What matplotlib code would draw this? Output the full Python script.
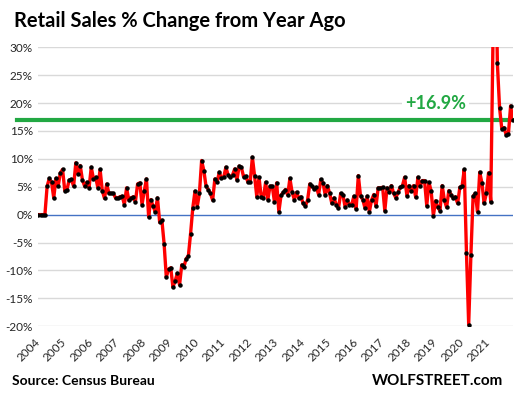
#!/usr/bin/env python
# -*- coding: utf-8 -*-
"""
Retail Sales % Change from Year Ago
"""
import numpy as np
import matplotlib
matplotlib.use("Agg")
import matplotlib.pyplot as plt

#-------------------------------------------------------#
# data (monthly, Jan 2004 - Dec 2021), % change y/y
years = list(range(2004, 2022))
yoy_2004 = [0, 0, 0, 0, 5.1, 6.5, 5.8, 3.0, 6.5, 5.1, 7.5, 8.1]
yoy_2005 = [4.3, 4.5, 6.2, 6.3, 5.1, 9.3, 7.3, 8.8, 6.2, 5.1, 5.8, 4.8]
yoy_2006 = [8.5, 6.4, 6.7, 4.8, 8.1, 4.3, 2.9, 5.5, 3.8, 3.8, 3.8, 3.0]
yoy_2007 = [3.0, 3.2, 3.3, 1.8, 4.8, 2.6, 3.0, 3.2, 2.3, 5.5, 5.7, 1.8]
yoy_2008 = [4.2, 6.4, -0.4, 2.7, 1.5, 0.5, 3.0, -1.4, -1.0, -5.2, -11.2, -9.8]
yoy_2009 = [-9.5, -13.0, -11.9, -10.5, -12.6, -9.0, -9.3, -7.9, -7.4, -3.4, 1.2, 4.2]
yoy_2010 = [1.4, 3.8, 9.7, 7.9, 5.1, 4.5, 3.8, 2.6, 6.4, 5.8, 7.6, 6.5]
yoy_2011 = [6.7, 8.5, 7.1, 6.7, 7.1, 8.2, 6.2, 8.7, 8.5, 6.8, 6.9, 5.8]
yoy_2012 = [5.8, 10.3, 6.9, 3.2, 6.7, 3.2, 3.0, 5.8, 2.7, 5.1, 5.1, 2.3]
yoy_2013 = [5.7, 0.5, 3.5, 4.0, 4.5, 3.5, 6.5, 4.0, 2.7, 4.0, 3.0, 3.2]
yoy_2014 = [2.0, 1.5, 2.6, 5.5, 5.1, 4.6, 4.9, 3.6, 6.3, 5.7, 3.5, 5.2]
yoy_2015 = [3.8, 2.0, 3.0, 1.8, 1.1, 3.8, 3.6, 1.4, 2.6, 1.8, 1.8, 3.3]
yoy_2016 = [1.0, 7.0, 3.3, 2.7, 1.2, 3.3, 0.5, 2.6, 3.6, 1.5, 4.8, 4.8]
yoy_2017 = [4.9, 0.7, 4.8, 4.0, 5.2, 3.8, 3.0, 4.0, 4.9, 5.2, 6.7, 3.4]
yoy_2018 = [5.2, 4.2, 5.2, 3.1, 6.7, 5.1, 6.1, 6.1, 1.6, 5.8, 4.2, -0.2]
yoy_2019 = [2.5, 1.3, 0.7, 5.2, 2.6, 1.3, 4.3, 3.6, 2.9, 3.2, 2.0, 4.9]
yoy_2020 = [5.1, 8.1, -6.9, -19.7, -7.3, 3.3, 3.8, 0.5, 7.6, 5.7, 2.0, 3.8]
yoy_2021 = [7.5, 2.3, 31.0, 53.0, 27.1, 19.1, 15.4, 15.6, 14.3, 14.5, 19.5, 16.9]

latest = 16.9
y_ticks = [30, 25, 20, 15, 10, 5, 0, -5, -10, -15, -20]
#-------------------------------------------------------#


#-------------------------------------------------------#
def make_graph():
    yoy = np.array(yoy_2004 + yoy_2005 + yoy_2006 + yoy_2007 + yoy_2008 +
                   yoy_2009 + yoy_2010 + yoy_2011 + yoy_2012 + yoy_2013 +
                   yoy_2014 + yoy_2015 + yoy_2016 + yoy_2017 + yoy_2018 +
                   yoy_2019 + yoy_2020 + yoy_2021)
    x = np.arange(len(yoy))

    fig = plt.figure(figsize=(5.14, 3.96), dpi=100)
    ax = fig.add_axes([0.0745, 0.1763, 0.9245, 0.7043])

    # grid
    for t in y_ticks:
        if t == 0:
            ax.axhline(t, color="#4472c4", lw=1.0, zorder=1)
        else:
            ax.axhline(t, color="#d9d9d9", lw=1.0, zorder=0)

    # 最新値のライン
    ax.axhline(latest, xmin=-0.045, xmax=1.0, color="#22a843", lw=3.0,
               clip_on=False, zorder=2)
    ax.text(180, 19.9, "+%.1f%%" % latest, color="#22a843", fontsize=13,
            fontweight="bold", family="Lato", ha="center", va="center",
            bbox=dict(facecolor="white", edgecolor="none", pad=2), zorder=2)

    # 系列
    ax.plot(x, yoy, color="#ff0000", lw=2.4, zorder=3)
    ax.plot(x, yoy, "o", color="black", ms=2.2, zorder=4)

    ax.set_xlim(0, len(yoy) - 0.7)
    ax.set_ylim(-20, 30)

    ax.set_yticks(y_ticks)
    ax.set_yticklabels(["%d%%" % t for t in y_ticks], family="Lato",
                       fontsize=8.5, color="#262626")
    ax.set_xticks(x[::12])
    ax.set_xticklabels([str(y) for y in years], family="Lato", fontsize=8.5,
                       color="#262626", rotation=45, ha="right",
                       va="center", rotation_mode="anchor")
    ax.tick_params(axis="both", length=0)
    ax.tick_params(axis="y", pad=4)
    ax.tick_params(axis="x", pad=10)
    for s in ax.spines.values():
        s.set_visible(False)

    fig.text(14 / 514, 1 - 27 / 396, "Retail Sales % Change from Year Ago",
             family="Lato", fontweight="bold", fontsize=14.5, va="baseline")
    fig.text(12 / 514, 1 - 385 / 396, "Source: Census Bureau",
             family="Lato", fontweight="bold", fontsize=10, va="baseline")
    fig.text(503 / 514, 1 - 385 / 396, "WOLFSTREET.com",
             family="Lato", fontweight="bold", fontsize=11, va="baseline",
             ha="right")

    fig.savefig("out.png", dpi=100)
#-------------------------------------------------------#


if __name__ == '__main__':
    make_graph()
